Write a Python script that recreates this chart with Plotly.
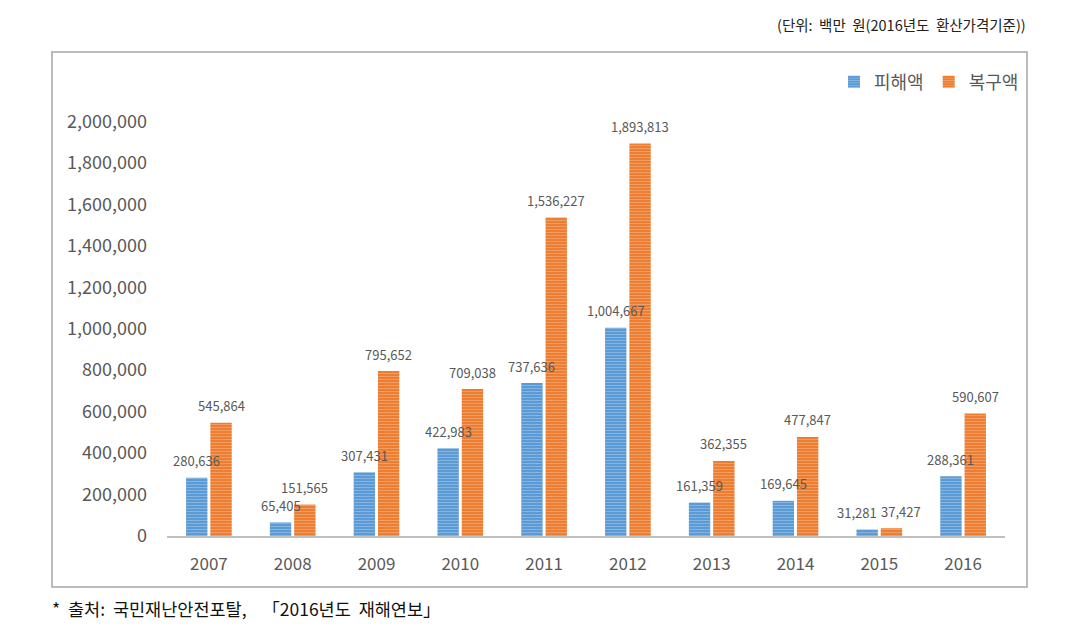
import plotly.graph_objects as go

years = ["2007", "2008", "2009", "2010", "2011", "2012", "2013", "2014", "2015", "2016"]
damage = [280636, 65405, 307431, 422983, 737636, 1004667, 161359, 169645, 31281, 288361]
recovery = [545864, 151565, 795652, 709038, 1536227, 1893813, 362355, 477847, 37427, 590607]
series_names = ["피해액", "복구액"]
y_ticks = [0, 200000, 400000, 600000, 800000, 1000000, 1200000, 1400000, 1600000, 1800000, 2000000]

OFF = 8  # page body margin
W, H = 1089 - 2 * OFF, 638 - 2 * OFF
L, R, T, B = 167, 1005, 111, 536  # plot area in screenshot pixels
YMAX = 2050000


def px(x):
    return (x - L) / (R - L)


def py(y):
    return (B - y) / (B - T)


BLUE = "#5B9BD5"
ORANGE = "#ED7D31"
GREY = "#595959"
FONT = "Noto Sans CJK KR, Noto Sans, sans-serif"

BARGAP = 0.42
cat_px = (R - L) / len(years)
slot = cat_px * (1 - BARGAP) / 2
px_per_val = (B - T) / YMAX

fig = go.Figure()
annotations = []
series = [(series_names[0], damage, BLUE), (series_names[1], recovery, ORANGE)]
for i, (name, vals, col) in enumerate(series):
    fig.add_trace(go.Bar(
        x=years, y=vals, name=name,
        marker=dict(color=col, line=dict(width=0),
                    pattern=dict(shape="-", fgcolor="rgba(255,255,255,0.55)", size=3, solidity=0.3)),
    ))
    for j, v in enumerate(vals):
        shift = (i - 0.5) * slot
        # push the two labels of a group apart when they sit at nearly the same height
        if abs(damage[j] - recovery[j]) * px_per_val < 14:
            shift += (i - 0.5) * 20
        # category axis: annotation x is the category index
        annotations.append(dict(x=j, y=v, xref="x", yref="y", text=f"{v:,}", showarrow=False,
                                xshift=shift, yshift=17, xanchor="center", yanchor="middle",
                                font=dict(size=13, color=GREY, family=FONT)))

annotations += [
    dict(text="(단위:  백만  원(2016년도  환산가격기준))", xref="paper", yref="paper",
         x=px(1028), y=py(25), xanchor="right", yanchor="middle", showarrow=False,
         font=dict(size=14.5, color="#222222", family=FONT)),
    dict(text="*  출처:  국민재난안전포탈,    「2016년도  재해연보」", xref="paper", yref="paper",
         x=px(50), y=py(608), xanchor="left", yanchor="middle", showarrow=False,
         font=dict(size=17.5, color="#111111", family=FONT)),
]

fig.update_layout(
    width=W, height=H,
    margin=dict(l=L - OFF, r=W + OFF - R, t=T - OFF, b=H + OFF - B, pad=0),
    paper_bgcolor="white", plot_bgcolor="white",
    barmode="group", bargap=BARGAP, bargroupgap=0.12,
    font=dict(family=FONT, color=GREY),
    showlegend=True,
    legend=dict(orientation="h", x=px(1024), xanchor="right", y=py(82), yanchor="middle",
                font=dict(size=18, color=GREY, family=FONT), itemwidth=30,
                bgcolor="rgba(0,0,0,0)"),
    xaxis=dict(type="category", categoryorder="array", categoryarray=years,
               range=[-0.5, len(years) - 0.5],
               showline=True, linecolor="#BFBFBF", linewidth=2, ticks="",
               tickfont=dict(size=17, color=GREY, family=FONT), ticklabelstandoff=12,
               showgrid=False, zeroline=False),
    yaxis=dict(range=[0, YMAX], tickvals=y_ticks, tickformat=",d",
               tickfont=dict(size=18, color=GREY, family=FONT), ticklabelstandoff=19,
               showgrid=False, zeroline=False, showline=False, ticks=""),
    shapes=[dict(type="rect", xref="paper", yref="paper",
                 x0=px(52), x1=px(1027), y0=py(587), y1=py(52),
                 line=dict(color="#A6A6A6", width=1.5), fillcolor="rgba(0,0,0,0)", layer="below")],
    annotations=annotations,
)

fig.write_html("out.html")
